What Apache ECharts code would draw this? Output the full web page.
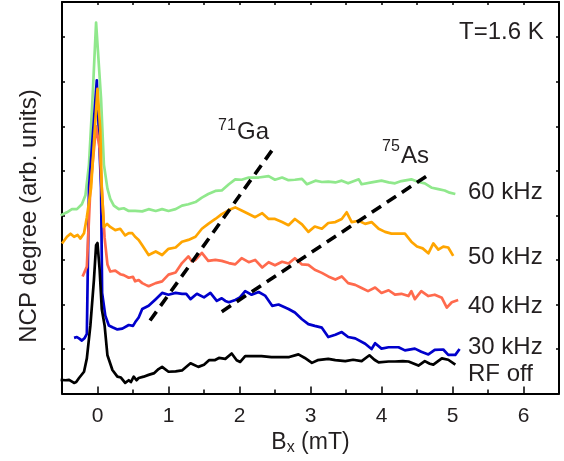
<!DOCTYPE html>
<html>
<head>
<meta charset="utf-8">
<script src="https://cdn.jsdelivr.net/npm/echarts/dist/echarts.min.js"></script>
<style>
  html, body { margin: 0; padding: 0; background: #fff; }
  #chart { width: 564px; height: 461px; }
</style>
</head>
<body>
<div id="chart"></div>
<script>
// tick positions
const xTicks = [0, 1, 2, 3, 4, 5, 6];
const xHalfTicks = [-0.5, 0, 0.5, 1, 1.5, 2, 2.5, 3, 3.5, 4, 4.5, 5, 5.5, 6, 6.5];
const yTicks = [0, 1, 2, 3, 4, 5, 6, 7, 8];

// NCP traces, [B_x (mT), NCP (arb.)]
const rfOff = [[-0.52,0.31],[-0.45,0.30],[-0.40,0.31],[-0.33,0.24],[-0.30,0.26],[-0.26,0.35],[-0.19,0.49],[-0.15,0.79],[-0.10,1.53],[-0.05,2.56],[-0.02,3.33],[0,3.38],[0.03,2.78],[0.06,1.90],[0.10,1.53],[0.14,0.86],[0.21,0.53],[0.28,0.38],[0.33,0.36],[0.39,0.24],[0.44,0.30],[0.47,0.26],[0.51,0.38],[0.55,0.30],[0.58,0.35],[0.65,0.38],[0.72,0.42],[0.80,0.46],[0.86,0.55],[0.91,0.60],[1.0,0.49],[1.1,0.50],[1.19,0.52],[1.31,0.68],[1.42,0.60],[1.5,0.65],[1.57,0.75],[1.65,0.75],[1.71,0.80],[1.8,0.78],[1.89,0.90],[1.96,0.75],[2.01,0.71],[2.08,0.84],[2.2,0.84],[2.31,0.84],[2.45,0.82],[2.55,0.82],[2.7,0.82],[2.83,0.88],[2.92,0.80],[3.02,0.69],[3.1,0.75],[3.25,0.78],[3.35,0.75],[3.49,0.73],[3.6,0.76],[3.72,0.73],[3.83,0.86],[3.9,0.76],[3.96,0.70],[4.1,0.72],[4.19,0.72],[4.3,0.73],[4.38,0.72],[4.52,0.63],[4.61,0.73],[4.68,0.67],[4.73,0.65],[4.85,0.79],[4.94,0.76],[5.04,0.65]];

const rf30 = [[-0.33,1.25],[-0.29,1.27],[-0.26,1.24],[-0.22,1.19],[-0.18,1.25],[-0.15,1.34],[-0.12,4.62],[-0.01,7.03],[0.05,4.62],[0.065,2.26],[0.11,1.75],[0.16,1.53],[0.21,1.49],[0.28,1.44],[0.35,1.46],[0.44,1.54],[0.5,1.52],[0.53,1.6],[0.58,1.71],[0.63,1.90],[0.72,1.97],[0.82,2.12],[0.91,2.26],[1.0,2.22],[1.1,2.26],[1.19,2.24],[1.25,2.24],[1.31,2.12],[1.40,2.24],[1.5,2.16],[1.59,2.26],[1.68,2.08],[1.75,2.14],[1.8,2.08],[1.85,2.05],[1.94,2.10],[2.0,2.15],[2.08,2.30],[2.17,2.22],[2.27,2.28],[2.36,2.20],[2.46,1.97],[2.55,2.0],[2.69,1.90],[2.78,1.82],[2.88,1.67],[2.97,1.56],[3.06,1.52],[3.16,1.48],[3.25,1.27],[3.35,1.32],[3.44,1.38],[3.53,1.27],[3.63,1.24],[3.77,1.12],[3.86,1.0],[3.91,1.13],[4.0,1.01],[4.1,1.04],[4.24,1.04],[4.33,0.97],[4.47,1.01],[4.56,0.94],[4.66,0.88],[4.75,0.98],[4.87,0.99],[4.94,0.87],[5.04,0.87],[5.1,1.0]];

const rf40 = [[-0.21,2.63],[-0.15,2.85],[-0.10,4.62],[-0.02,6.0],[0.03,5.5],[0.06,4.62],[0.10,3.5],[0.14,2.9],[0.18,2.74],[0.25,2.76],[0.32,2.68],[0.37,2.66],[0.44,2.60],[0.5,2.62],[0.53,2.52],[0.58,2.55],[0.63,2.48],[0.68,2.44],[0.72,2.41],[0.82,2.48],[0.91,2.52],[1.0,2.67],[1.10,2.72],[1.19,2.93],[1.28,3.08],[1.33,2.97],[1.38,3.0],[1.47,3.16],[1.56,2.98],[1.66,3.0],[1.75,2.98],[1.85,2.93],[1.94,2.90],[2.03,3.04],[2.13,2.95],[2.22,3.0],[2.32,2.83],[2.41,2.95],[2.5,2.88],[2.60,2.96],[2.69,2.92],[2.78,3.04],[2.88,2.90],[2.97,2.89],[3.06,2.78],[3.16,2.71],[3.25,2.63],[3.35,2.56],[3.44,2.63],[3.53,2.48],[3.63,2.44],[3.72,2.37],[3.81,2.30],[3.91,2.38],[4.0,2.26],[4.1,2.32],[4.19,2.22],[4.28,2.24],[4.38,2.19],[4.42,2.30],[4.47,2.12],[4.56,2.30],[4.66,2.19],[4.75,2.22],[4.85,2.15],[4.92,1.93],[4.99,2.05],[5.08,2.1]];

const rf50 = [[-0.5,3.37],[-0.43,3.52],[-0.38,3.59],[-0.33,3.52],[-0.28,3.56],[-0.24,3.48],[-0.19,3.60],[-0.15,3.96],[-0.09,4.62],[-0.04,5.89],[0,6.84],[0.04,5.89],[0.06,4.62],[0.09,3.74],[0.135,3.81],[0.18,3.74],[0.25,3.67],[0.32,3.70],[0.39,3.55],[0.44,3.6],[0.49,3.6],[0.53,3.52],[0.58,3.45],[0.63,3.33],[0.72,3.11],[0.77,3.15],[0.82,3.19],[0.91,3.11],[1.0,3.25],[1.1,3.28],[1.19,3.41],[1.28,3.45],[1.38,3.52],[1.47,3.70],[1.56,3.81],[1.66,3.92],[1.75,4.03],[1.85,4.12],[1.94,4.18],[2.03,4.11],[2.13,4.03],[2.22,3.96],[2.32,4.05],[2.41,3.92],[2.5,3.92],[2.60,3.85],[2.69,3.78],[2.78,3.92],[2.88,3.80],[2.97,3.63],[3.06,3.75],[3.16,3.70],[3.25,3.83],[3.35,3.85],[3.44,3.92],[3.51,4.07],[3.58,3.85],[3.68,3.88],[3.77,3.81],[3.86,3.85],[3.96,3.70],[4.05,3.63],[4.14,3.59],[4.24,3.59],[4.33,3.59],[4.42,3.41],[4.5,3.30],[4.58,3.26],[4.66,3.15],[4.73,3.37],[4.8,3.23],[4.87,3.30],[4.94,3.28],[5.01,3.09]];

const rf60 = [[-0.52,4.0],[-0.43,4.07],[-0.36,4.14],[-0.29,4.14],[-0.22,4.25],[-0.17,4.45],[-0.12,5.14],[-0.07,6.62],[-0.02,8.33],[0.05,6.62],[0.09,5.14],[0.14,4.6],[0.18,4.37],[0.23,4.22],[0.3,4.14],[0.37,4.16],[0.44,4.10],[0.53,4.1],[0.63,4.09],[0.72,4.14],[0.82,4.1],[0.91,4.14],[1.0,4.1],[1.10,4.14],[1.19,4.22],[1.28,4.25],[1.38,4.30],[1.47,4.40],[1.56,4.48],[1.66,4.55],[1.75,4.56],[1.85,4.70],[1.94,4.81],[2.03,4.80],[2.13,4.85],[2.27,4.85],[2.41,4.88],[2.5,4.80],[2.6,4.85],[2.69,4.79],[2.78,4.80],[2.88,4.82],[2.95,4.70],[3.07,4.78],[3.16,4.75],[3.25,4.76],[3.35,4.74],[3.44,4.78],[3.53,4.72],[3.68,4.81],[3.72,4.70],[3.86,4.74],[4.0,4.78],[4.1,4.74],[4.19,4.72],[4.28,4.77],[4.42,4.81],[4.52,4.75],[4.61,4.72],[4.71,4.62],[4.80,4.59],[4.89,4.56],[4.96,4.51],[5.04,4.48]];

// guide lines for the isotopes
const ga71Line = [[0.74, 1.64], [2.48, 5.51]];
const as75Line = [[1.75, 1.84], [4.67, 4.92]];

const FONT = "Liberation Sans, Arial, Helvetica, sans-serif";
const TXT = "#231f20";

const chart = echarts.init(document.getElementById("chart"));

function trace(name, data, color, z) {
  return {
    name: name,
    type: "line",
    data: data,
    showSymbol: false,
    symbol: "none",
    z: z,
    lineStyle: { color: color, width: 2.7, join: "round" },
    animation: false,
  };
}

function guide(name, data) {
  return {
    name: name,
    type: "line",
    data: data,
    showSymbol: false,
    symbol: "none",
    z: 10,
    lineStyle: { color: "#000", width: 3.6, type: [11, 7], cap: "butt" },
    animation: false,
  };
}

const baseX = {
  type: "value",
  min: -0.5,
  max: 6.5,
  splitLine: { show: false },
};

const option = {
  animation: false,
  grid: { left: 62, right: 5, top: 2, bottom: 62 },
  xAxis: [
    Object.assign({}, baseX, {
      position: "bottom",
      axisLine: { show: true, onZero: false, lineStyle: { color: "#000", width: 2 } },
      axisTick: { show: true, inside: true, length: 7, customValues: xTicks, lineStyle: { color: "#000", width: 1.5 } },
      axisLabel: { show: true, customValues: xTicks, margin: 12, fontSize: 21, color: TXT, fontFamily: FONT },
      name: "{b|B}{s|x}{b| (mT)}",
      nameLocation: "middle",
      nameGap: 35,
      nameTextStyle: {
        rich: {
          b: { fontSize: 23, fontFamily: FONT, color: TXT },
          s: { fontSize: 16, fontFamily: FONT, color: TXT, padding: [10, 0, 0, 0] },
        },
      },
    }),
    Object.assign({}, baseX, {
      position: "bottom",
      axisLine: { show: false, onZero: false },
      axisTick: { show: true, inside: true, length: 4, customValues: xHalfTicks, lineStyle: { color: "#000", width: 1.5 } },
      axisLabel: { show: false },
    }),
    Object.assign({}, baseX, {
      position: "top",
      axisLine: { show: true, onZero: false, lineStyle: { color: "#000", width: 2 } },
      axisTick: { show: true, inside: true, length: 3, customValues: xHalfTicks, lineStyle: { color: "#000", width: 1.5 } },
      axisLabel: { show: false },
    }),
  ],
  yAxis: [
    {
      type: "value",
      min: 0,
      max: 8.79,
      position: "left",
      splitLine: { show: false },
      axisLine: { show: true, onZero: false, lineStyle: { color: "#000", width: 2 } },
      axisTick: { show: true, inside: true, length: 3, customValues: yTicks, lineStyle: { color: "#000", width: 1.5 } },
      axisLabel: { show: false },
    },
    {
      type: "value",
      min: 0,
      max: 8.79,
      position: "right",
      splitLine: { show: false },
      axisLine: { show: true, onZero: false, lineStyle: { color: "#000", width: 2 } },
      axisTick: { show: true, inside: true, length: 3, customValues: yTicks, lineStyle: { color: "#000", width: 1.5 } },
      axisLabel: { show: false },
    },
  ],
  series: [
    trace("60 kHz", rf60, "#90e88c", 2),
    trace("30 kHz", rf30, "#0000cc", 3),
    trace("40 kHz", rf40, "#ff6a4d", 4),
    trace("50 kHz", rf50, "#ffa500", 5),
    trace("RF off", rfOff, "#000000", 6),
    guide("71Ga", ga71Line),
    guide("75As", as75Line),
  ],
  graphic: [
    {
      type: "text", x: 29, y: 216, rotation: Math.PI / 2,
      style: { text: "NCP degree (arb. units)", fontSize: 24, fontFamily: FONT, fill: TXT, align: "center", verticalAlign: "middle" },
    },
    { type: "text", left: 459, top: 20, style: { text: "T=1.6 K", fontSize: 24, fontFamily: FONT, fill: TXT } },
    { type: "text", left: 468, top: 180, style: { text: "60 kHz", fontSize: 24, fontFamily: FONT, fill: TXT } },
    { type: "text", left: 468, top: 245, style: { text: "50 kHz", fontSize: 24, fontFamily: FONT, fill: TXT } },
    { type: "text", left: 468, top: 294, style: { text: "40 kHz", fontSize: 24, fontFamily: FONT, fill: TXT } },
    { type: "text", left: 468, top: 335, style: { text: "30 kHz", fontSize: 24, fontFamily: FONT, fill: TXT } },
    { type: "text", left: 468, top: 362, style: { text: "RF off", fontSize: 24, fontFamily: FONT, fill: TXT } },
    { type: "text", left: 218, top: 118, style: { text: "71", fontSize: 16, fontFamily: FONT, fill: TXT } },
    { type: "text", left: 237, top: 120, style: { text: "Ga", fontSize: 24, fontFamily: FONT, fill: TXT } },
    { type: "text", left: 382, top: 139, style: { text: "75", fontSize: 16, fontFamily: FONT, fill: TXT } },
    { type: "text", left: 401, top: 144, style: { text: "As", fontSize: 24, fontFamily: FONT, fill: TXT } },
  ],
};

chart.setOption(option);
</script>
</body>
</html>
